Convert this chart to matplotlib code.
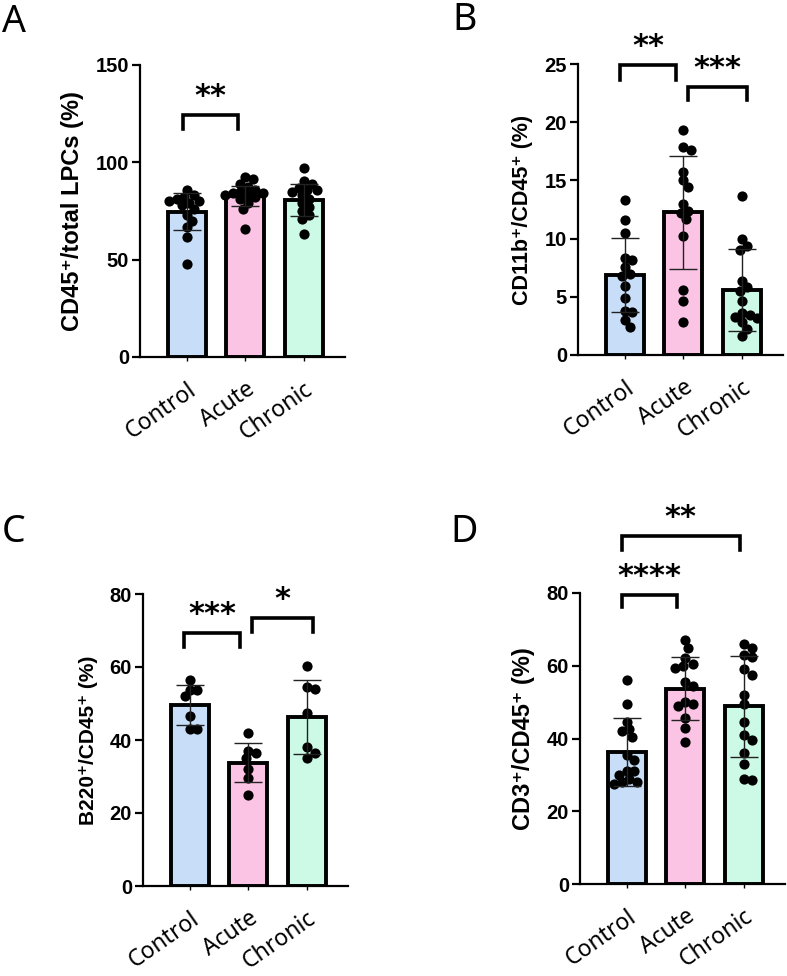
import numpy as np
import matplotlib
matplotlib.use("Agg")
import matplotlib.pyplot as plt

GROUPS = ["Control", "Acute", "Chronic"]
BAR_COLORS = ["#C8DEF8", "#FCC4E4", "#CCFAE6"]

# Panel A: CD45+/total LPCs (%)
A_CONTROL = [85.7, 83, 82, 81, 80, 80, 79, 78, 76, 73, 70, 67, 61.5, 48]
A_ACUTE = [92.5, 91.5, 89, 87.5, 86, 85, 84.5, 84, 83.5, 83, 82, 81, 79, 76, 66]
A_CHRONIC = [97, 90.5, 89, 87, 86, 86, 85, 83, 81, 79, 77, 75, 73, 71, 63]
A_MEAN = [74.6, 82.8, 80.6]
A_SD = [9.6, 5.1, 8.3]

# Panel B: CD11b+/CD45+ (%)
B_CONTROL = [13.3, 11.6, 10.5, 8.3, 8.2, 7.6, 7.0, 6.8, 5.9, 4.9, 3.8, 3.7, 3.0, 2.4]
B_ACUTE = [19.3, 17.9, 17.6, 15.7, 15.0, 14.4, 13.0, 12.4, 12.2, 11.7, 10.2, 5.6, 4.6, 2.8]
B_CHRONIC = [13.7, 10.0, 9.4, 9.0, 6.4, 5.8, 5.5, 4.6, 3.6, 3.4, 3.3, 3.2, 2.8, 2.2, 1.6]
B_MEAN = [6.87, 12.26, 5.58]
B_SD = [3.15, 4.85, 3.5]

# Panel C: B220+/CD45+ (%)
C_CONTROL = [56.5, 53.8, 53.8, 52, 46.5, 43, 43]
C_ACUTE = [42, 37, 36.5, 35, 32, 29.5, 25]
C_CHRONIC = [60.3, 54.5, 54, 47.5, 38, 36.5, 35]
C_MEAN = [49.6, 33.8, 46.3]
C_SD = [5.4, 5.4, 10.1]

# Panel D: CD3+/CD45+ (%)
D_CONTROL = [56, 49.5, 44.5, 42.5, 42, 40.5, 35.5, 34, 31, 31, 30, 29, 28, 28, 27.5]
D_ACUTE = [67, 65, 62, 60.5, 60, 59.5, 55.5, 54.5, 50, 49.5, 49, 45.5, 43, 39]
D_CHRONIC = [66, 65, 63, 62.5, 59, 57.5, 52, 49.5, 44.5, 41, 39.5, 36, 33, 29, 28.5]
D_MEAN = [36.2, 53.7, 48.8]
D_SD = [9.3, 8.6, 13.8]

# significance brackets: (x start, x end, bar y, leg bottom y, label)
A_SIG = [(-0.07, 0.87, 124.3, 117.0, "**")]
B_SIG = [(-0.08, 0.87, 24.9, 23.6, "**"), (1.08, 2.09, 23.0, 21.9, "***")]
C_SIG = [(-0.10, 0.86, 69.4, 65.6, "***"), (1.06, 2.10, 73.3, 69.7, "*")]
D_SIG = [(-0.09, 0.86, 79.45, 76.2, "****"), (-0.09, 1.93, 95.7, 91.8, "**")]

W, H = 787, 976
DOT_PX = 10.0

plt.rcParams["font.family"] = ["Liberation Sans", "DejaVu Sans"]


def swarm(values, px_per_y, px_per_x):
    vals = np.asarray(values, dtype=float)
    ys = vals * px_per_y
    xs = np.zeros(len(vals))
    placed = []
    step = DOT_PX / 4.0
    cands = [0.0]
    for k in range(1, 60):
        cands += [k * step, -k * step]
    for i in np.argsort(-vals):
        for c in cands:
            ok = all((c - px) ** 2 + (ys[i] - py) ** 2 >= (DOT_PX * 0.75) ** 2 for px, py in placed)
            if ok:
                xs[i] = c
                placed.append((c, ys[i]))
                break
    return xs / px_per_x


def panel(rect_px, groups, means, sds, ymax, yticks, ylabel, ysize, sig, letter, letter_xy):
    left, top, right, bottom = rect_px
    ax = fig.add_axes([left / W, 1 - bottom / H, (right - left) / W, (bottom - top) / H])
    x = np.arange(3)
    ax.bar(x, means, width=0.65, color=BAR_COLORS, edgecolor="black", linewidth=2.8, zorder=1)
    ax.set_xlim(-0.80, 2.70)
    ax.set_ylim(0, ymax)
    px_per_y = (bottom - top) / ymax
    px_per_x = (right - left) / 3.5
    for i, vals in enumerate(groups):
        off = swarm(vals, px_per_y, px_per_x)
        ax.scatter(i + off, vals, s=54, color="black", zorder=2, clip_on=False, linewidths=0)
    ax.errorbar(x, means, yerr=sds, fmt="none", ecolor="#222222", elinewidth=1.0,
                capsize=10, capthick=1.0, zorder=3)
    for s in ["top", "right"]:
        ax.spines[s].set_visible(False)
    for s in ["left", "bottom"]:
        ax.spines[s].set_linewidth(1.6)
    ax.set_yticks(yticks)
    ax.set_yticklabels([str(t) for t in yticks], fontsize=14.5, fontweight="bold")
    ax.tick_params(axis="y", length=6, width=1.6, pad=2)
    ax.set_xticks(x)
    ax.set_xticklabels(GROUPS, fontsize=16.5, family="Noto Sans", fontstyle="normal")
    ax.tick_params(axis="x", length=3, width=1.0, pad=12)
    plt.setp(ax.get_xticklabels(), rotation=35, ha="right", rotation_mode="anchor")
    ax.set_ylabel(ylabel, fontsize=ysize, fontweight="bold", labelpad=8)
    for x1, x2, y, yl, lab in sig:
        ax.plot([x1, x1, x2, x2], [yl, y, y, yl], color="black", lw=2.6,
                solid_joinstyle="miter", clip_on=False)
        ax.annotate(lab, xy=((x1 + x2) / 2, y), xytext=(0, 3), textcoords="offset points",
                    ha="center", va="bottom", fontsize=22, fontweight="bold",
                    family="DejaVu Sans", annotation_clip=False)
    fig.text(letter_xy[0] / W, 1 - letter_xy[1] / H, letter, fontsize=27,
             family="Noto Sans", ha="left", va="center")
    return ax


fig = plt.figure(figsize=(W / 100, H / 100), dpi=100)

panel((140, 65, 345, 357), [A_CONTROL, A_ACUTE, A_CHRONIC], A_MEAN, A_SD, 150,
      [0, 50, 100, 150], "CD45\u207a/total LPCs (%)", 17, A_SIG, "A", (2, 22))
panel((578, 64, 783, 355), [B_CONTROL, B_ACUTE, B_CHRONIC], B_MEAN, B_SD, 25,
      [0, 5, 10, 15, 20, 25], "CD11b\u207a/CD45\u207a (%)", 15.5, B_SIG, "B", (452, 20))
panel((143, 594, 348, 886), [C_CONTROL, C_ACUTE, C_CHRONIC], C_MEAN, C_SD, 80,
      [0, 20, 40, 60, 80], "B220\u207a/CD45\u207a (%)", 15, C_SIG, "C", (2, 532))
panel((580, 593, 785, 884), [D_CONTROL, D_ACUTE, D_CHRONIC], D_MEAN, D_SD, 80,
      [0, 20, 40, 60, 80], "CD3\u207a/CD45\u207a (%)", 17, D_SIG, "D", (450, 532))

fig.savefig("out.png", dpi=100)
